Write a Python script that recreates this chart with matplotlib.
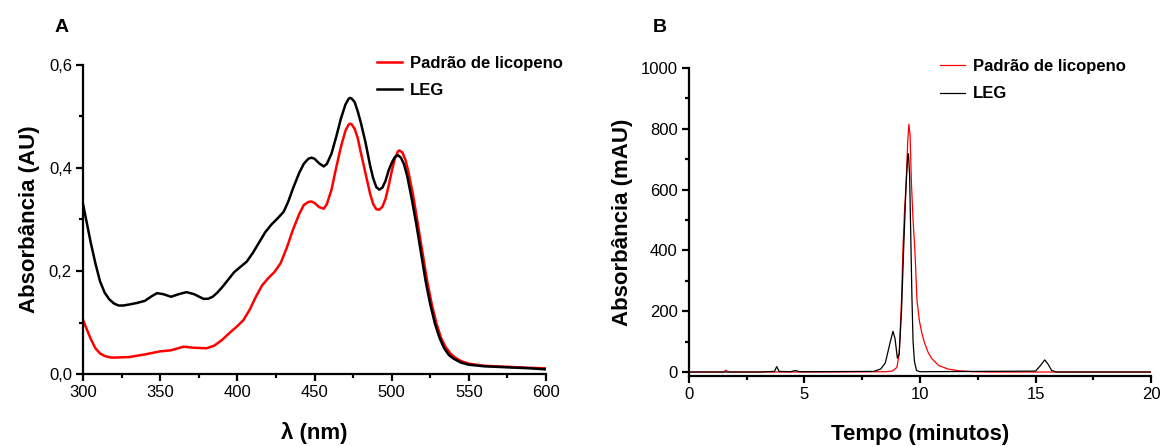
import matplotlib
matplotlib.use("Agg")
import matplotlib.pyplot as plt
from matplotlib.ticker import MultipleLocator, FuncFormatter

plt.rcParams['font.family'] = ['Liberation Sans', 'DejaVu Sans']

# Painel A - espectro UV-Vis (LEG)
wl_leg = [300, 302, 305, 308, 311, 314, 317, 320, 323, 326, 330, 335, 340, 345, 348,
          352, 357, 362, 367, 372, 378, 381, 384, 387, 390, 394, 398, 402, 406, 410,
          414, 418, 422, 426, 430, 433, 436, 440, 443, 446, 448, 450, 453, 456, 458,
          461, 464, 467, 470, 472, 473, 474, 476, 478, 480, 483, 486, 488, 490, 492,
          494, 496, 498, 500, 502, 504, 506, 508, 510, 513, 516, 519, 522, 525, 528,
          531, 534, 537, 540, 545, 550, 560, 575, 590, 600]
abs_leg = [0.33, 0.30, 0.255, 0.215, 0.18, 0.158, 0.145, 0.137, 0.133, 0.133, 0.135,
           0.138, 0.142, 0.152, 0.157, 0.155, 0.150, 0.155, 0.159, 0.155, 0.146, 0.146,
           0.150, 0.158, 0.168, 0.183, 0.198, 0.208, 0.218, 0.235, 0.255, 0.275, 0.29,
           0.302, 0.315, 0.335, 0.36, 0.39, 0.408, 0.418, 0.42, 0.418, 0.409, 0.403,
           0.408, 0.428, 0.46, 0.495, 0.523, 0.534, 0.536, 0.535, 0.528, 0.51, 0.488,
           0.45, 0.405, 0.38, 0.363, 0.358, 0.362, 0.375, 0.395, 0.41, 0.421, 0.425,
           0.42, 0.407, 0.385, 0.34, 0.29, 0.235, 0.18, 0.135, 0.098, 0.07, 0.05, 0.037,
           0.03, 0.022, 0.018, 0.015, 0.013, 0.011, 0.009]

# Painel A - espectro UV-Vis (padrão de licopeno)
wl_pad = [300, 302, 305, 308, 311, 314, 318, 322, 330, 340, 350, 357, 365, 372, 380,
          385, 390, 395, 400, 404, 408, 412, 416, 420, 424, 428, 432, 436, 440, 443,
          446, 448, 450, 453, 456, 458, 461, 464, 467, 470, 472, 473, 474, 476, 478,
          480, 483, 486, 488, 490, 492, 494, 496, 498, 500, 502, 504, 505, 507, 509,
          511, 514, 517, 520, 523, 526, 529, 532, 535, 538, 541, 545, 550, 560, 575,
          590, 600]
abs_pad = [0.105, 0.09, 0.068, 0.05, 0.04, 0.035, 0.032, 0.032, 0.033, 0.038, 0.044,
           0.046, 0.053, 0.051, 0.050, 0.055, 0.066, 0.08, 0.093, 0.105, 0.125, 0.15,
           0.172, 0.186, 0.198, 0.215, 0.245, 0.28, 0.31, 0.328, 0.334, 0.335, 0.332,
           0.324, 0.321, 0.33, 0.358, 0.40, 0.44, 0.472, 0.484, 0.486, 0.485, 0.476,
           0.458, 0.43, 0.39, 0.35, 0.33, 0.32, 0.319, 0.325, 0.34, 0.365, 0.393, 0.418,
           0.432, 0.434, 0.43, 0.415, 0.39, 0.345, 0.29, 0.235, 0.18, 0.135, 0.098,
           0.07, 0.052, 0.04, 0.032, 0.025, 0.02, 0.016, 0.014, 0.012, 0.011]

# Painel B - cromatograma (padrão de licopeno)
t_pad = [0, 1.5, 1.6, 1.7, 3.0, 6.0, 8.5, 8.8, 9.0, 9.1, 9.2, 9.26, 9.33, 9.4, 9.47,
         9.52, 9.57, 9.63, 9.7, 9.78, 9.87, 9.97, 10.08, 10.2, 10.35, 10.5, 10.8,
         11.2, 11.7, 12.3, 13.0, 20.0]
mau_pad = [0, 0, 6, 0, 0, 0, 1, 3, 15, 60, 236, 400, 530, 620, 760, 815, 780, 620,
           500, 400, 236, 170, 128, 95, 65, 45, 22, 10, 4, 1, 0, 0]

# Painel B - cromatograma (LEG)
t_leg = [0, 3.0, 3.7, 3.8, 3.9, 4.4, 4.6, 4.8, 8.0, 8.3, 8.5, 8.7, 8.83, 8.92, 9.02,
         9.1, 9.2, 9.3, 9.4, 9.47, 9.5, 9.55, 9.6, 9.65, 9.7, 9.76, 9.85, 10.0, 15.0,
         15.2, 15.4, 15.55, 15.7, 15.9, 20.0]
mau_leg = [0, 0, 2, 18, 2, 1, 5, 1, 2, 10, 30, 95, 134, 110, 46, 60, 200, 420, 620,
           710, 718, 650, 450, 250, 100, 35, 5, 1, 3, 20, 40, 25, 5, 0, 0]

fig = plt.figure(figsize=(11.63, 4.46), dpi=100)
axA = fig.add_axes([0.0714, 0.1614, 0.3981, 0.6929])
axB = fig.add_axes([0.5924, 0.157, 0.3973, 0.6905])

lw_ax = 1.6
for ax in (axA, axB):
    for s in ('top', 'right'):
        ax.spines[s].set_visible(False)
    for s in ('left', 'bottom'):
        ax.spines[s].set_linewidth(lw_ax)
    ax.tick_params(which='major', length=5, width=lw_ax, labelsize=12, pad=3)
    ax.tick_params(which='minor', length=3, width=lw_ax)

axA.plot(wl_pad, abs_pad, color='#ff0000', lw=1.8, label='Padrão de licopeno')
axA.plot(wl_leg, abs_leg, color='black', lw=1.8, label='LEG')
axA.set_xlim(300, 600)
axA.set_ylim(0, 0.6)
axA.xaxis.set_major_locator(MultipleLocator(50))
axA.xaxis.set_minor_locator(MultipleLocator(25))
axA.yaxis.set_major_locator(MultipleLocator(0.2))
axA.yaxis.set_minor_locator(MultipleLocator(0.1))
axA.yaxis.set_major_formatter(FuncFormatter(lambda v, p: f"{v:.1f}".replace('.', ',')))
axA.set_xlabel('λ (nm)', fontsize=16, fontweight='bold', labelpad=16)
axA.set_ylabel('Absorbância (AU)', fontsize=16, fontweight='bold', labelpad=6)
axA.legend(loc='upper left', bbox_to_anchor=(0.324, 0.875), bbox_transform=fig.transFigure,
           frameon=False, prop={'weight': 'bold', 'size': 12},
           handlelength=1.5, handletextpad=0.5, labelspacing=0.75, borderpad=0, borderaxespad=0)

axB.plot(t_pad, mau_pad, color='#ff0000', lw=0.9, label='Padrão de licopeno')
axB.plot(t_leg, mau_leg, color='black', lw=0.9, label='LEG')
axB.set_xlim(0, 20)
axB.set_ylim(-13, 1000)
axB.xaxis.set_major_locator(MultipleLocator(5))
axB.xaxis.set_minor_locator(MultipleLocator(2.5))
axB.yaxis.set_major_locator(MultipleLocator(200))
axB.yaxis.set_minor_locator(MultipleLocator(100))
axB.set_xlabel('Tempo (minutos)', fontsize=16, fontweight='bold', labelpad=16)
axB.set_ylabel('Absorbância (mAU)', fontsize=16, fontweight='bold', labelpad=6)
axB.legend(loc='upper left', bbox_to_anchor=(0.808, 0.868), bbox_transform=fig.transFigure,
           frameon=False, prop={'weight': 'bold', 'size': 12},
           handlelength=1.5, handletextpad=0.5, labelspacing=0.75, borderpad=0, borderaxespad=0)

fig.text(62 / 1163, 1 - 28 / 446, 'A', fontsize=14, fontweight='bold', ha='center', va='center')
fig.text(660 / 1163, 1 - 28 / 446, 'B', fontsize=14, fontweight='bold', ha='center', va='center')

fig.savefig('out.png', dpi=100)
